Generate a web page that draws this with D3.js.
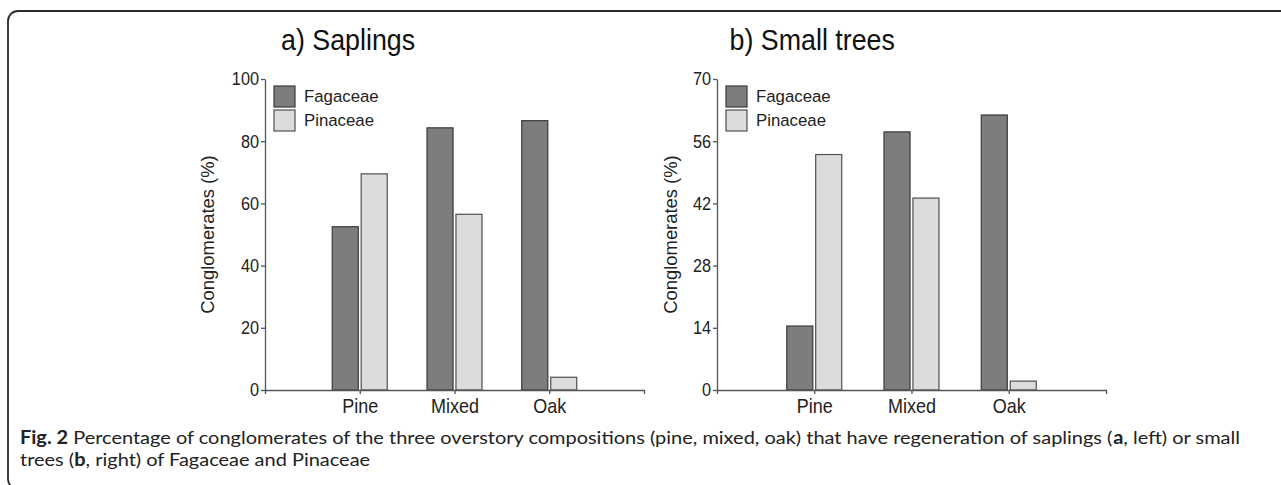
<!DOCTYPE html>
<html>
<head>
<meta charset="utf-8">
<script src="https://d3js.org/d3.v7.min.js"></script>
<style>
  body { margin: 0; background: #fff; }
  svg { display: block; }
  .axis text { font-family: "Liberation Sans", Arial, sans-serif; fill: #222; }
  .axis path, .axis line { stroke: #555; stroke-width: 1.3; }
</style>
</head>
<body>
<div id="app"></div>
<script>
const categories = ["Pine", "Mixed", "Oak"];
const seriesNames = ["Fagaceae", "Pinaceae"];

// a) Saplings
const saplingsFagaceae = [52.5, 84.3, 86.6];
const saplingsPinaceae = [69.5, 56.5, 4.1];
const saplingsTicks = [0, 20, 40, 60, 80, 100];

// b) Small trees
const smallFagaceae = [14.4, 58.1, 61.9];
const smallPinaceae = [53.0, 43.2, 2.0];
const smallTicks = [0, 14, 28, 42, 56, 70];

const colors = {Fagaceae: "#7d7d7d", Pinaceae: "#dcdcdc"};
const strokes = {Fagaceae: "#3b3b3b", Pinaceae: "#505050"};

const width = 1281, height = 485;
const chartFont = "Liberation Sans, Arial, sans-serif";

const svg = d3.select("#app").append("svg")
    .attr("width", width)
    .attr("height", height);

// frame
svg.append("rect")
    .attr("x", 8).attr("y", 11)
    .attr("width", 1300).attr("height", 478)
    .attr("rx", 10)
    .attr("fill", "none")
    .attr("stroke", "#2b2b2b")
    .attr("stroke-width", 1.8);

const panels = [
  {title: "a) Saplings", fag: saplingsFagaceae, pin: saplingsPinaceae, ticks: saplingsTicks,
   x0: 265, x1: 644, titleDx: 16, labelDx: -57},
  {title: "b) Small trees", fag: smallFagaceae, pin: smallPinaceae, ticks: smallTicks,
   x0: 717, x1: 1106, titleDx: 12.5, labelDx: -46}
];

const yTop = 79, yBottom = 390;

// the figure's lettering is a bit narrow: squeeze text horizontally
const narrow = (sel, k) => sel.each(function() {
  const t = d3.select(this);
  t.attr("x", (+t.attr("x") || 0) / k).attr("transform", `scale(${k},1)`);
});

panels.forEach(p => {
  const g = svg.append("g");

  const x = d3.scalePoint()
      .domain(categories)
      .range([p.x0, p.x1])
      .padding(1);

  const y = d3.scaleLinear()
      .domain([0, d3.max(p.ticks)])
      .range([yBottom, yTop]);

  const sub = d3.scaleBand()
      .domain(seriesNames)
      .range([-27.5, 27.5])
      .paddingInner(0.1);

  const rows = categories.map((c, i) => ({cat: c, Fagaceae: p.fag[i], Pinaceae: p.pin[i]}));

  // bars
  g.append("g")
    .selectAll("g")
    .data(rows)
    .join("g")
      .attr("transform", d => `translate(${x(d.cat)},0)`)
    .selectAll("rect")
    .data(d => seriesNames.map(k => ({key: k, value: d[k]})))
    .join("rect")
      .attr("x", d => sub(d.key))
      .attr("y", d => y(d.value))
      .attr("width", sub.bandwidth())
      .attr("height", d => y(0) - y(d.value))
      .attr("fill", d => colors[d.key])
      .attr("stroke", d => strokes[d.key])
      .attr("stroke-width", 1.2);

  // axes
  g.append("g")
      .attr("class", "axis")
      .attr("transform", `translate(${p.x0},0)`)
      .call(d3.axisLeft(y).tickValues(p.ticks).tickSize(4).tickPadding(2).tickSizeOuter(0))
      .call(g => g.selectAll("text").attr("font-size", 18.5).call(narrow, 0.88));

  g.append("g")
      .attr("class", "axis")
      .attr("transform", `translate(0,${yBottom})`)
      .call(d3.axisBottom(x).tickSize(4).tickPadding(5).tickSizeOuter(4))
      .call(g => g.selectAll("text").attr("font-size", 20).call(narrow, 0.9));

  // title
  g.append("g")
      .attr("transform", `translate(${p.x0 + p.titleDx},50)`)
    .append("text")
      .attr("font-family", chartFont)
      .attr("font-size", 29)
      .attr("fill", "#111")
      .text(p.title)
      .call(narrow, 0.925);

  // y label
  g.append("text")
      .attr("transform", `translate(${p.x0 + p.labelDx},${(yTop + yBottom) / 2}) rotate(-90)`)
      .attr("text-anchor", "middle")
      .attr("dy", "0.35em")
      .attr("font-family", chartFont)
      .attr("font-size", 18.4)
      .attr("fill", "#222")
      .text("Conglomerates (%)");

  // legend
  const lg = g.append("g")
      .attr("transform", `translate(${p.x0 + 9},86)`);
  const li = lg.selectAll("g")
    .data(seriesNames)
    .join("g")
      .attr("transform", (d, i) => `translate(0,${i * 24})`);
  li.append("rect")
      .attr("width", 21).attr("height", 21)
      .attr("fill", d => colors[d])
      .attr("stroke", d => strokes[d])
      .attr("stroke-width", 1.2);
  li.append("text")
      .attr("x", 30).attr("y", 10.5)
      .attr("dy", "0.35em")
      .attr("font-family", chartFont)
      .attr("font-size", 16.8)
      .attr("fill", "#222")
      .text(d => d);
});

// caption, one text per run so bold parts sit side by side
const capLines = [
  [["Fig. 2", true], [" Percentage of conglomerates of the three overstory compositions (pine, mixed, oak) that have regeneration of saplings (", false], ["a", true], [", left) or small", false]],
  [["trees (", false], ["b", true], [", right) of Fagaceae and Pinaceae", false]]
];
const capX = 20, capW = 1220;
let sx = 1;
capLines.forEach((line, i) => {
  const lg = svg.append("g");
  let cx = 0;
  line.forEach(([s, b]) => {
    const t = lg.append("text")
        .attr("x", cx)
        .attr("font-family", "Lato, Open Sans, sans-serif")
        .attr("font-size", 18)
        .attr("font-weight", b ? "bold" : "normal")
        .attr("fill", "#222")
        .style("white-space", "pre")
        .text(s);
    cx += t.node().getComputedTextLength();
  });
  if (i === 0) sx = capW / cx;
  lg.attr("transform", `translate(${capX},${444 + i * 22}) scale(${sx},1)`);
});
</script>
</body>
</html>
